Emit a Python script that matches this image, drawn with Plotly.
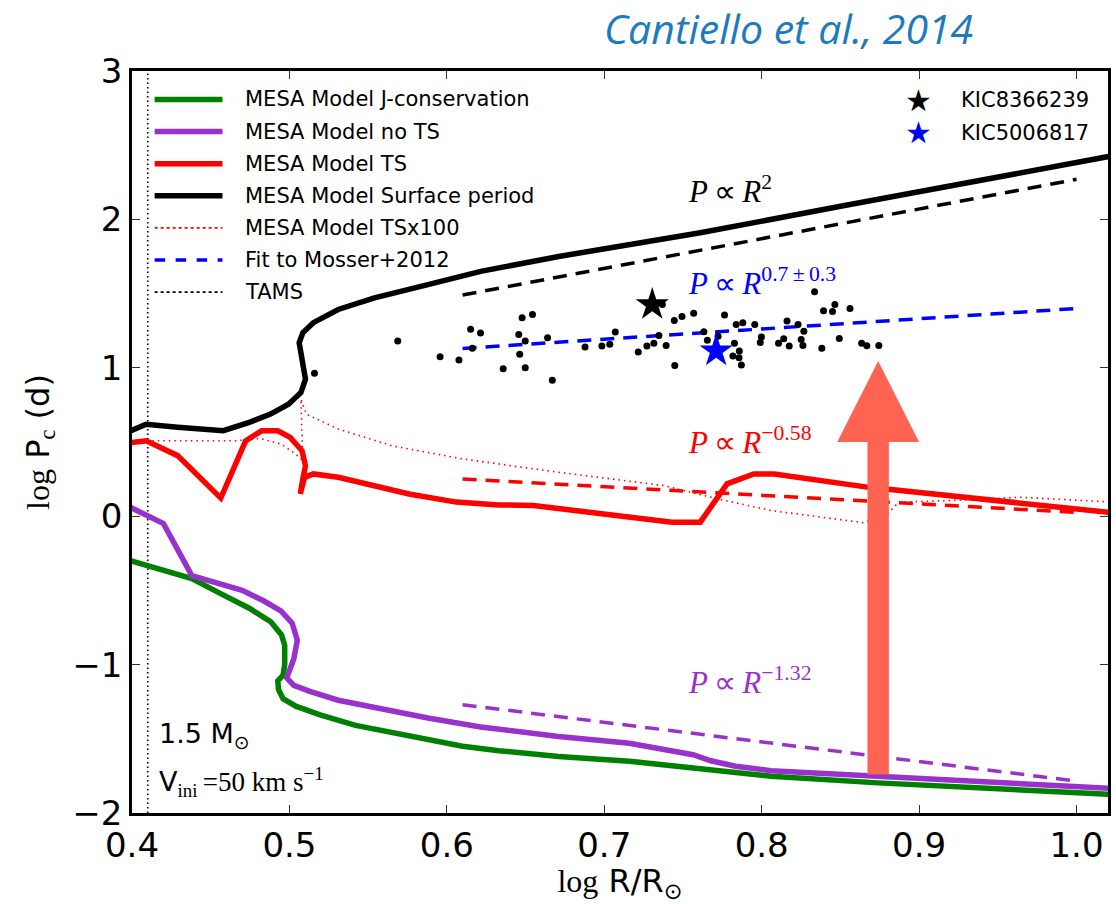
import plotly.graph_objects as go

# ---------------- data ----------------
tams_x = 0.41

jcons_x = [0.399, 0.438, 0.456, 0.4745, 0.488, 0.495, 0.497, 0.497, 0.496, 0.4926, 0.4931, 0.496, 0.504,
           0.520, 0.542, 0.565, 0.588, 0.610, 0.633, 0.671, 0.716, 0.761, 0.806, 0.874, 0.941, 1.023]
jcons_y = [-0.30, -0.42, -0.52, -0.62, -0.71, -0.80, -0.87, -1.00, -1.07, -1.11, -1.17, -1.23, -1.28,
           -1.34, -1.41, -1.46, -1.51, -1.55, -1.58, -1.62, -1.651, -1.697, -1.752, -1.797, -1.835, -1.876]

nots_x = [0.399, 0.420, 0.438, 0.452, 0.470, 0.4836, 0.4948, 0.5017, 0.505, 0.5028, 0.4994, 0.4983, 0.5028,
          0.513, 0.531, 0.554, 0.588, 0.6215, 0.671, 0.716, 0.7564, 0.7677, 0.7834, 0.806, 0.874, 0.941, 1.023]
nots_y = [0.06, -0.05, -0.40, -0.44, -0.50, -0.57, -0.64, -0.72, -0.835, -0.96, -1.05, -1.09, -1.14,
          -1.18, -1.24, -1.29, -1.36, -1.42, -1.485, -1.53, -1.607, -1.648, -1.685, -1.715, -1.752, -1.797, -1.835]

ts_x = [0.399, 0.409, 0.429, 0.4564, 0.4722, 0.4824, 0.4926, 0.5005, 0.508, 0.5102, 0.5085, 0.5069, 0.5096,
        0.5152, 0.531, 0.554, 0.576, 0.606, 0.633, 0.655, 0.671, 0.743, 0.761, 0.778, 0.795, 0.808, 0.867,
        0.910, 0.964, 1.023]
ts_y = [0.495, 0.508, 0.408, 0.122, 0.508, 0.576, 0.576, 0.531, 0.441, 0.340, 0.251, 0.150, 0.262,
        0.285, 0.262, 0.206, 0.150, 0.095, 0.076, 0.072, 0.052, -0.04, -0.04, 0.218, 0.285, 0.285, 0.196,
        0.150, 0.095, 0.023]

surf_x = [0.399, 0.409, 0.429, 0.458, 0.4745, 0.488, 0.4994, 0.5073, 0.5102, 0.5085, 0.5062, 0.5085, 0.5152,
          0.531, 0.554, 0.588, 0.6215, 0.671, 0.761, 0.851, 0.941, 1.022]
surf_y = [0.575, 0.62, 0.60, 0.576, 0.632, 0.688, 0.755, 0.833, 0.923, 1.035, 1.169, 1.236, 1.304,
          1.393, 1.471, 1.561, 1.65, 1.75, 1.91, 2.09, 2.27, 2.427]

ts100_x = [0.399, 0.409, 0.4655, 0.4813, 0.4948, 0.5039, 0.5085, 0.5073, 0.5107, 0.5311, 0.565, 0.610, 0.671,
           0.738, 0.772, 0.806, 0.865, 0.880, 0.887, 0.919, 0.964, 1.023]
ts100_y = [0.495, 0.508, 0.508, 0.524, 0.486, 0.419, 0.374, 0.79, 0.688, 0.587, 0.475, 0.386, 0.296,
           0.206, 0.117, 0.038, -0.044, 0.016, 0.095, 0.105, 0.128, 0.095]

# power-law guide lines (x range, y at ends)
fit_x = [0.61, 1.0]
r2_y = [1.49, 2.27]          # P ~ R^2
mosser_y = [1.13, 1.40]      # P ~ R^0.7
ts_fit_y = [0.25, 0.025]     # P ~ R^-0.58
nots_fit_y = [-1.27, -1.785] # P ~ R^-1.32

# Kepler stars (Mosser+2012)
obs_x = [0.5688, 0.5957, 0.6077, 0.6151, 0.6214, 0.6162, 0.6358, 0.6478, 0.6544, 0.6457, 0.6498, 0.6463,
         0.6498, 0.6640, 0.6670, 0.6878, 0.6985, 0.7035, 0.7070, 0.7216, 0.7271, 0.7315, 0.7347, 0.7393,
         0.7369, 0.7445, 0.7494, 0.7568, 0.7448, 0.7633, 0.7655, 0.7723, 0.7764, 0.7827, 0.7838, 0.7880,
         0.7858, 0.7817, 0.7856, 0.7871, 0.7956, 0.7998, 0.7991, 0.8107, 0.8140, 0.8161, 0.8175, 0.8231,
         0.8251, 0.8268, 0.8262, 0.8336, 0.8393, 0.8450, 0.8465, 0.8561, 0.8493, 0.8382, 0.8635, 0.8668,
         0.8744, 0.5159]
obs_y = [1.180, 1.075, 1.053, 1.259, 1.234, 1.131, 0.994, 1.337, 1.359, 1.225, 1.180, 1.091,
         1.001, 1.203, 0.916, 1.140, 1.147, 1.158, 1.241, 1.106, 1.147, 1.165, 1.218, 1.151,
         1.426, 1.319, 1.346, 1.368, 1.015, 1.243, 1.185, 1.212, 1.355, 1.165, 1.292, 1.303,
         1.113, 1.079, 1.068, 1.019, 1.292, 1.207, 1.171, 1.165, 1.196, 1.315, 1.147, 1.292,
         1.191, 1.247, 1.151, 1.512, 1.384, 1.379, 1.426, 1.400, 1.198, 1.131, 1.165, 1.149,
         1.151, 0.963]

kic_names = ["KIC8366239", "KIC5006817"]
kic_x = [0.7305, 0.7711]
kic_y = [1.426, 1.113]

# arrow (data coordinates)
arrow_x = 0.874
arrow_y_tail = -1.74
arrow_y_head = 0.50
arrow_y_tip = 1.046

legend_labels = ["MESA Model J-conservation", "MESA Model no TS", "MESA Model TS",
                 "MESA Model Surface period", "MESA Model TSx100", "Fit to Mosser+2012", "TAMS"]

# ---------------- styles ----------------
GREEN = "#008000"
PURPLE = "#9932CC"
RED = "#FF0000"
BLUE = "#0000FF"
BLACK = "#000000"
ARROW = "#FF6452"
SANS = "DejaVu Sans"
SERIF = "Liberation Serif"

fig = go.Figure()

def line(x, y, color, width, dash="solid"):
    fig.add_trace(go.Scatter(x=x, y=y, mode="lines", showlegend=False, hoverinfo="skip",
                             line=dict(color=color, width=width, dash=dash)))

line([tams_x, tams_x], [-2, 3], BLACK, 1.6, "1.5px,3px")
line(jcons_x, jcons_y, GREEN, 5.5)
line(nots_x, nots_y, PURPLE, 5.5)
line(ts_x, ts_y, RED, 5.5)
line(surf_x, surf_y, BLACK, 5.5)
line(ts100_x, ts100_y, RED, 1.6, "1.5px,4px")
line(fit_x, r2_y, BLACK, 3.5, "14px,9px")
line(fit_x, mosser_y, BLUE, 3.5, "14px,9px")
line(fit_x, ts_fit_y, RED, 3.5, "14px,9px")
line(fit_x, nots_fit_y, PURPLE, 3.5, "14px,9px")

fig.add_trace(go.Scatter(x=obs_x, y=obs_y, mode="markers", showlegend=False, hoverinfo="skip",
                         marker=dict(color=BLACK, size=7)))
fig.add_trace(go.Scatter(x=kic_x, y=kic_y, mode="markers", showlegend=False, hoverinfo="skip",
                         marker=dict(color=[BLACK, BLUE], size=25, symbol="star", line=dict(width=0))))

# arrow as a filled path
sw, hw = 0.0068, 0.026
path = (f"M {arrow_x - sw} {arrow_y_tail} L {arrow_x - sw} {arrow_y_head} L {arrow_x - hw} {arrow_y_head} "
        f"L {arrow_x} {arrow_y_tip} L {arrow_x + hw} {arrow_y_head} L {arrow_x + sw} {arrow_y_head} "
        f"L {arrow_x + sw} {arrow_y_tail} Z")
shapes = [dict(type="path", path=path, xref="x", yref="y", fillcolor=ARROW, line=dict(width=0), layer="above")]

annotations = []

# legend (upper left), drawn by hand
leg_styles = [(GREEN, 5.5, "solid"), (PURPLE, 5.5, "solid"), (RED, 5.5, "solid"), (BLACK, 5.5, "solid"),
              (RED, 1.6, "dot"), (BLUE, 3.5, "dash"), (BLACK, 1.6, "dot")]
LX0, LX1, LTX, LY0, LDY = 0.0232, 0.0927, 0.1141, 0.9616, 0.04326
for i, (lab, (c, w, d)) in enumerate(zip(legend_labels, leg_styles)):
    yy = LY0 - i * LDY
    shapes.append(dict(type="line", xref="paper", yref="paper", x0=LX0, x1=LX1, y0=yy, y1=yy,
                       line=dict(color=c, width=w, dash=d)))
    annotations.append(dict(text=lab, xref="paper", yref="paper", x=LTX, y=yy, xanchor="left",
                            yanchor="middle", showarrow=False, font=dict(family=SANS, size=21, color=BLACK)))

# legend (upper right) for the stars
for name, col, yy in zip(kic_names, [BLACK, BLUE], [0.9606, 0.9167]):
    annotations.append(dict(text="\u2605", xref="paper", yref="paper", x=0.8059, y=yy, xanchor="center",
                            yanchor="middle", showarrow=False, font=dict(family=SANS, size=30, color=col)))
    annotations.append(dict(text=name, xref="paper", yref="paper", x=0.8477, y=yy, xanchor="left",
                            yanchor="middle", showarrow=False, font=dict(family=SANS, size=21, color=BLACK)))

# power-law labels
def mathlab(txt, x, y, color):
    annotations.append(dict(text=txt, x=x, y=y, xref="x", yref="y", xanchor="left", yanchor="middle",
                            showarrow=False, font=dict(family=SERIF, size=31, color=color)))

mathlab("<i>P</i>\u2009\u221d\u2009<i>R</i><sup>2</sup>", 0.7518, 2.20, BLACK)
mathlab("<i>P</i>\u2009\u221d\u2009<i>R</i><sup>0.7\u2009\u00b1\u20090.3</sup>", 0.7518, 1.58, BLUE)
mathlab("<i>P</i>\u2009\u221d\u2009<i>R</i><sup>\u22120.58</sup>", 0.7518, 0.51, RED)
mathlab("<i>P</i>\u2009\u221d\u2009<i>R</i><sup>\u22121.32</sup>", 0.7518, -1.11, PURPLE)

annotations.append(dict(text="1.5 M<sub>\u2299</sub>", x=0.4157, y=-1.48, xref="x", yref="y",
                        xanchor="left", yanchor="middle", showarrow=False,
                        font=dict(family=SANS, size=27, color=BLACK)))
annotations.append(dict(text=f"<span style='font-family:{SANS}'>V</span><sub>ini</sub>\u2009=50 km s<sup>\u22121</sup>",
                        x=0.4157, y=-1.79, xref="x", yref="y", xanchor="left", yanchor="middle",
                        showarrow=False, font=dict(family=SERIF, size=27, color=BLACK)))

# citation
annotations.append(dict(text="<i>Cantiello et al., 2014</i>", xref="paper", yref="paper", x=0.482, y=1.0585,
                        xanchor="left", yanchor="middle", showarrow=False,
                        font=dict(family="Open Sans", size=41, color="#1B7BBE")))

axis_common = dict(showline=True, linecolor=BLACK, linewidth=2.5, mirror="ticks", ticks="inside",
                   ticklen=8, tickwidth=1, tickcolor="#333", showgrid=False, zeroline=False,
                   tickfont=dict(family=SANS, size=34, color=BLACK))

fig.update_layout(
    width=1116, height=904, margin=dict(l=132, r=5, t=71, b=89),
    plot_bgcolor="white", paper_bgcolor="white", showlegend=False,
    xaxis=dict(range=[0.4, 1.02], tickvals=[0.4, 0.5, 0.6, 0.7, 0.8, 0.9, 1.0], tickformat=".1f",
               title=dict(text=f"<span style='font-family:{SERIF}'>log</span> R/R<sub>\u2299</sub>",
                          font=dict(family=SANS, size=32, color=BLACK), standoff=12),
               **axis_common),
    yaxis=dict(range=[-2, 3], tickvals=[-2, -1, 0, 1, 2, 3],
               title=dict(text=f"<span style='font-family:{SERIF}'>log</span> P<sub><span style='font-family:{SERIF}'>c</span></sub> (d)",
                          font=dict(family=SANS, size=32, color=BLACK), standoff=14),
               **axis_common),
    shapes=shapes, annotations=annotations,
)

fig.write_html("out.html")
